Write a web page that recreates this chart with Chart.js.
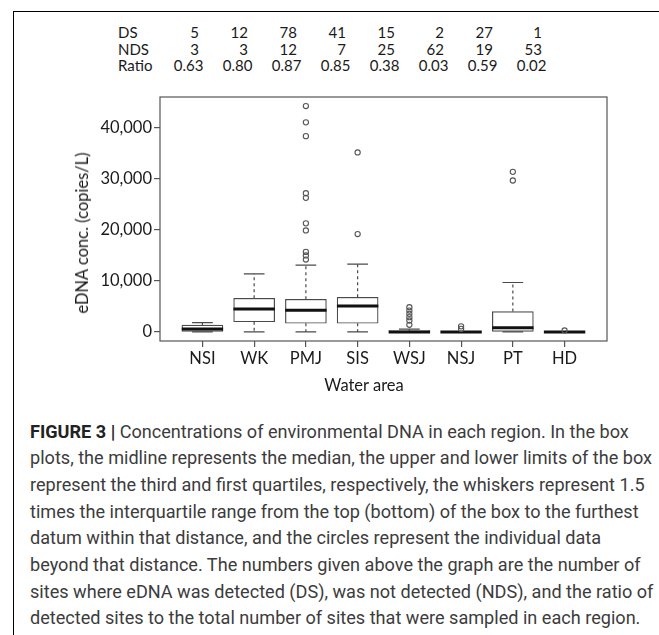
<!DOCTYPE html>
<html>
<head>
<meta charset="utf-8">
<script src="https://cdn.jsdelivr.net/npm/chart.js@4"></script>
<style>
  body { margin: 0; background: #fff; width: 659px; height: 635px; overflow: hidden; position: relative; }
  #frame { position: absolute; left: 13px; top: 11px; width: 660px; height: 640px; border-top: 1.5px solid #000; border-left: 1.5px solid #000; }
  #chartBox { position: absolute; left: 0; top: 0; width: 659px; height: 400px; }
  #stats { position: absolute; left: 118px; top: 24px; border-collapse: collapse; font-family: Lato, sans-serif; font-size: 15px; color: #1a1a1a; }
  #stats td { padding: 0; height: 16.6px; line-height: 16.6px; text-align: right; width: 49px; white-space: nowrap; }
  #stats td.lab { text-align: left; width: 48.5px; }
  #stats td.cnt { padding-right: 16.5px; width: 32.5px; }
  #stats td.rat { padding-right: 12px; width: 37px; }
  .axTitle { position: absolute; font-family: Lato, sans-serif; font-size: 16.5px; color: #1a1a1a; white-space: nowrap; }
  #yTitle { left: 82px; top: 233px; transform: translate(-50%, -50%) rotate(-90deg); }
  #xTitle { left: 364px; top: 385px; transform: translate(-50%, -50%); }
  #caption { position: absolute; left: 30px; top: 418.5px; font-family: Roboto, sans-serif; font-size: 18.1px; line-height: 26.7px; color: #3c3c3c; white-space: nowrap; }
  #caption b { color: #222; font-weight: 700; }
</style>
</head>
<body>
<div id="frame"></div>
<table id="stats"></table>
<div id="chartBox"><canvas id="boxChart" width="659" height="400"></canvas></div>
<div class="axTitle" id="yTitle">eDNA conc. (copies/L)</div>
<div class="axTitle" id="xTitle">Water area</div>
<div id="caption"><b>FIGURE 3 |</b> Concentrations of environmental DNA in each region. In the box<br>plots, the midline represents the median, the upper and lower limits of the box<br>represent the third and first quartiles, respectively, the whiskers represent 1.5<br>times the interquartile range from the top (bottom) of the box to the furthest<br>datum within that distance, and the circles represent the individual data<br>beyond that distance. The numbers given above the graph are the number of<br>sites where eDNA was detected (DS), was not detected (NDS), and the ratio of<br>detected sites to the total number of sites that were sampled in each region.</div>
<script>
// water areas and the counts printed above the plot
const categories = ['NSI', 'WK', 'PMJ', 'SIS', 'WSJ', 'NSJ', 'PT', 'HD'];
const dsCounts = [5, 12, 78, 41, 15, 2, 27, 1];
const ndsCounts = [3, 3, 12, 7, 25, 62, 19, 53];
const ratios = ['0.63', '0.80', '0.87', '0.85', '0.38', '0.03', '0.59', '0.02'];

// box plot statistics (copies/L)
const whiskerLow = [0, 0, 0, 0, 0, 0, 0, 0];
const q1 = [0, 2000, 1700, 1700, 0, 0, 0, 0];
const median = [600, 4500, 4250, 5100, 0, 0, 850, 0];
const q3 = [1350, 6600, 6400, 6800, 250, 0, 4000, 0];
const whiskerHigh = [1850, 11400, 13100, 13300, 550, 0, 9700, 0];
const outliers = [
    [],
    [],
    [44300, 41100, 38400, 27200, 26300, 21300, 19900, 15700, 15000, 14200],
    [35200, 19200],
    [4850, 4200, 3550, 2900, 2250, 1400],
    [1100, 600],
    [31400, 29700],
    [300]
];
const yTicks = [0, 10000, 20000, 30000, 40000];

// table above the graph
const stats = document.getElementById('stats');
[['DS', dsCounts, 'cnt'], ['NDS', ndsCounts, 'cnt'], ['Ratio', ratios, 'rat']].forEach(function (row) {
    var tr = document.createElement('tr');
    var th = document.createElement('td');
    th.className = 'lab';
    th.textContent = row[0];
    tr.appendChild(th);
    row[1].forEach(function (v) {
        var td = document.createElement('td');
        td.className = row[2];
        td.textContent = v;
        tr.appendChild(td);
    });
    stats.appendChild(tr);
});

// segment helper: points separated by a gap so each piece is its own line
function segments(fn) {
    var pts = [];
    categories.forEach(function (c, i) {
        fn(i + 1, i).forEach(function (p) { pts.push(p); });
        pts.push({ x: i + 1, y: null });
    });
    return pts;
}

const boxHalf = 0.4;
const capHalf = 0.2;

const boxData = categories.map((c, i) => ({ x: i + 1, y: [q1[i], q3[i]] }));
const whiskerData = segments((x, i) => [
    { x: x, y: q3[i] }, { x: x, y: whiskerHigh[i] }, { x: x, y: null },
    { x: x, y: q1[i] }, { x: x, y: whiskerLow[i] }
]);
const capData = segments((x, i) => [
    { x: x - capHalf, y: whiskerHigh[i] }, { x: x + capHalf, y: whiskerHigh[i] }, { x: x, y: null },
    { x: x - capHalf, y: whiskerLow[i] }, { x: x + capHalf, y: whiskerLow[i] }
]);
const medianData = segments((x, i) => [
    { x: x - boxHalf, y: median[i] }, { x: x + boxHalf, y: median[i] }
]);
const outlierData = [];
outliers.forEach((list, i) => list.forEach(v => outlierData.push({ x: i + 1, y: v })));

const framePlugin = {
    id: 'frame',
    afterDatasetsDraw(chart) {
        const a = chart.chartArea;
        const ctx = chart.ctx;
        ctx.save();
        ctx.strokeStyle = '#555';
        ctx.lineWidth = 1.2;
        ctx.strokeRect(a.left, a.top, a.right - a.left, a.bottom - a.top);
        ctx.restore();
    }
};

const lineColor = '#4a4a4a';

new Chart(document.getElementById('boxChart').getContext('2d'), {
    type: 'scatter',
    data: {
        datasets: [
            {
                type: 'bar',
                data: boxData,
                backgroundColor: '#fff',
                borderColor: lineColor,
                borderWidth: 1.2,
                borderSkipped: false,
                barThickness: 41,
                order: 5
            },
            {
                data: whiskerData,
                showLine: true,
                borderColor: lineColor,
                borderWidth: 1.2,
                borderDash: [3, 3],
                pointRadius: 0,
                spanGaps: false,
                order: 4
            },
            {
                data: capData,
                showLine: true,
                borderColor: lineColor,
                borderWidth: 1.2,
                pointRadius: 0,
                spanGaps: false,
                order: 3
            },
            {
                data: medianData,
                showLine: true,
                borderColor: '#111',
                borderWidth: 3,
                pointRadius: 0,
                spanGaps: false,
                order: 2
            },
            {
                data: outlierData,
                pointStyle: 'circle',
                pointRadius: 2.6,
                pointBorderWidth: 1.1,
                pointBackgroundColor: 'rgba(255,255,255,0)',
                pointBorderColor: '#555',
                order: 1
            }
        ]
    },
    options: {
        responsive: false,
        animation: false,
        layout: { padding: { left: 0, top: 97, right: 52, bottom: 0 } },
        plugins: { legend: { display: false }, tooltip: { enabled: false } },
        scales: {
            x: {
                type: 'linear',
                offset: false,
                min: 0.18,
                max: 8.82,
                afterFit: s => { s.height = 59; },
                afterBuildTicks: s => { s.ticks = categories.map((c, i) => ({ value: i + 1 })); },
                border: { display: false },
                grid: { offset: false, drawOnChartArea: false, drawTicks: true, tickLength: 6, color: '#555', lineWidth: 1.2 },
                ticks: {
                    autoSkip: false,
                    maxRotation: 0,
                    padding: 2,
                    color: '#1a1a1a',
                    font: { family: 'Lato', size: 16.5 },
                    callback: v => categories[v - 1]
                }
            },
            y: {
                type: 'linear',
                min: -1772,
                max: 46072,
                afterFit: s => { s.width = 160; },
                afterBuildTicks: s => { s.ticks = yTicks.map(v => ({ value: v })); },
                border: { display: false },
                grid: { drawOnChartArea: false, drawTicks: true, tickLength: 6, color: '#555', lineWidth: 1.2 },
                ticks: {
                    padding: 2,
                    color: '#1a1a1a',
                    font: { family: 'Lato', size: 16.5 },
                    callback: v => v.toLocaleString('en-US')
                }
            }
        }
    },
    plugins: [framePlugin]
});
</script>
</body>
</html>
